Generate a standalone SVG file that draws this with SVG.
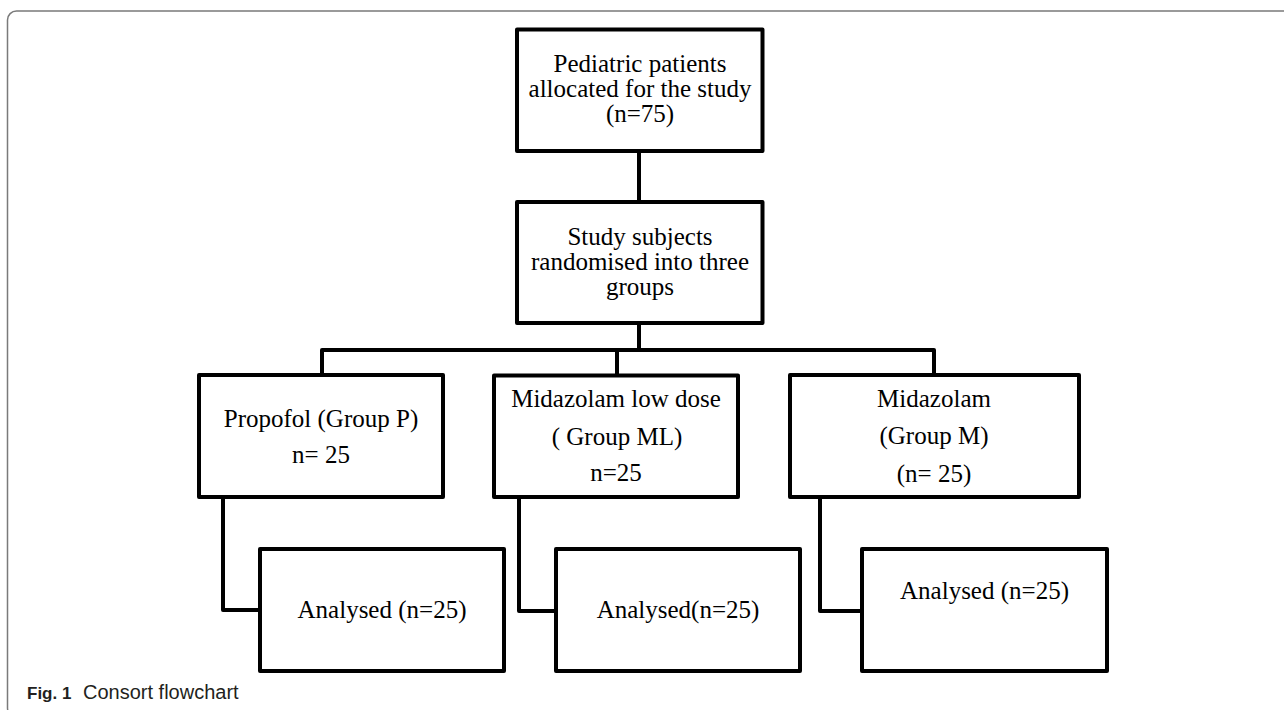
<svg xmlns="http://www.w3.org/2000/svg" width="1284" height="710" viewBox="0 0 1284 710">
<style>
.box{fill:#fff;stroke:#000;stroke-width:4;stroke-linejoin:round}
.conn{fill:none;stroke:#000;stroke-width:4;stroke-linejoin:round}
.t{font-family:"Liberation Serif","Times New Roman",serif;font-size:25px;fill:#000;text-anchor:middle}
.cap{font-family:"Liberation Sans",Arial,sans-serif;fill:#231f20}
.capb{font-size:17px;font-weight:bold}
.capn{font-size:20px}
</style>
<rect x="0" y="0" width="1284" height="710" fill="#fff"/>
<rect x="7.5" y="11" width="1300" height="706" rx="9" fill="none" stroke="#7a7a7a" stroke-width="1.5"/>
<g id="connectors">
<path class="conn" d="M639,151 V202"/>
<path class="conn" d="M639,323 V350"/>
<path class="conn" d="M322,375 V350 H934 V375"/>
<path class="conn" d="M617,350 V375"/>
<path class="conn" d="M223,497 V610 H260"/>
<path class="conn" d="M519,497 V611 H556"/>
<path class="conn" d="M820,497 V611 H862"/>
</g>
<g id="n-allocated">
<rect class="box" x="517" y="29.5" width="245.5" height="121.5"/>
<text class="t" x="640" y="72">Pediatric patients</text>
<text class="t" x="640" y="97">allocated for the study</text>
<text class="t" x="640" y="122">(n=75)</text>
</g>
<g id="n-randomised">
<rect class="box" x="517" y="202" width="245.5" height="121"/>
<text class="t" x="640" y="245">Study subjects</text>
<text class="t" x="640" y="270">randomised into three</text>
<text class="t" x="640" y="295">groups</text>
</g>
<g id="n-propofol">
<rect class="box" x="199" y="375" width="244" height="122"/>
<text class="t" x="321" y="427">Propofol (Group P)</text>
<text class="t" x="321" y="463">n= 25</text>
</g>
<g id="n-midaz-low">
<rect class="box" x="494" y="375.5" width="244" height="121.5"/>
<text class="t" x="616" y="407">Midazolam low dose</text>
<text class="t" x="617" y="445">( Group ML)</text>
<text class="t" x="616" y="481">n=25</text>
</g>
<g id="n-midaz">
<rect class="box" x="790" y="375" width="289" height="122"/>
<text class="t" x="934" y="407">Midazolam</text>
<text class="t" x="934" y="444">(Group M)</text>
<text class="t" x="934" y="482">(n= 25)</text>
</g>
<g id="n-analysed-p">
<rect class="box" x="260" y="549" width="244" height="122"/>
<text class="t" x="382" y="618">Analysed (n=25)</text>
</g>
<g id="n-analysed-ml">
<rect class="box" x="556" y="549" width="244" height="122"/>
<text class="t" x="678" y="618">Analysed(n=25)</text>
</g>
<g id="n-analysed-m">
<rect class="box" x="862" y="549" width="245" height="122"/>
<text class="t" x="984.5" y="599">Analysed (n=25)</text>
</g>
<text class="cap capb" x="27" y="699">Fig. 1</text>
<text class="cap capn" x="83" y="699">Consort flowchart</text>
</svg>
